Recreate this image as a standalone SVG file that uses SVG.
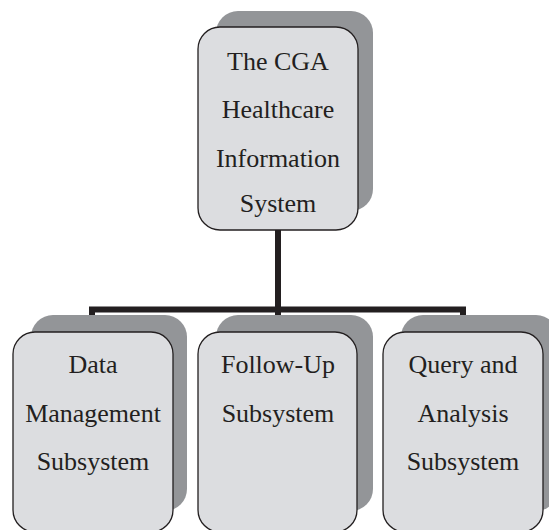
<svg xmlns="http://www.w3.org/2000/svg" width="549" height="530" viewBox="0 0 549 530">
<style>
.sh{fill:#939598;stroke:none}
.fr{fill:#dcdde0;stroke:#231f20;stroke-width:1.3}
.t{font-family:"Liberation Serif","Times New Roman",serif;font-size:26px;fill:#231f20;text-anchor:middle}
.c{fill:none;stroke:#231f20;stroke-width:6;stroke-linejoin:miter}
</style>
<rect width="549" height="530" fill="#ffffff"/>
<g id="connectors">
<path class="c" d="M278,228 V318"/>
<path class="c" d="M92,318 V309.5 H463 V318"/>
</g>
<g id="node-top">
<rect class="sh" x="216" y="11" width="157" height="200" rx="22"/>
<rect class="fr" x="198" y="27" width="160" height="203" rx="22"/>
<text class="t" x="278" y="70">The CGA</text>
<text class="t" x="278" y="118">Healthcare</text>
<text class="t" x="278" y="167">Information</text>
<text class="t" x="278" y="212">System</text>
</g>
<g id="node-data">
<rect class="sh" x="31" y="315" width="156" height="196" rx="22"/>
<rect class="fr" x="13" y="332" width="160" height="200" rx="22"/>
<text class="t" x="93" y="373">Data</text>
<text class="t" x="93" y="422">Management</text>
<text class="t" x="93" y="470">Subsystem</text>
</g>
<g id="node-follow">
<rect class="sh" x="216" y="315" width="157" height="196" rx="22"/>
<rect class="fr" x="198" y="332" width="159" height="200" rx="22"/>
<text class="t" x="278" y="373">Follow-Up</text>
<text class="t" x="278" y="422">Subsystem</text>
</g>
<g id="node-query">
<rect class="sh" x="401" y="315" width="157" height="196" rx="22"/>
<rect class="fr" x="383" y="332" width="160" height="200" rx="22"/>
<text class="t" x="463" y="373">Query and</text>
<text class="t" x="463" y="422">Analysis</text>
<text class="t" x="463" y="470">Subsystem</text>
</g>
</svg>
